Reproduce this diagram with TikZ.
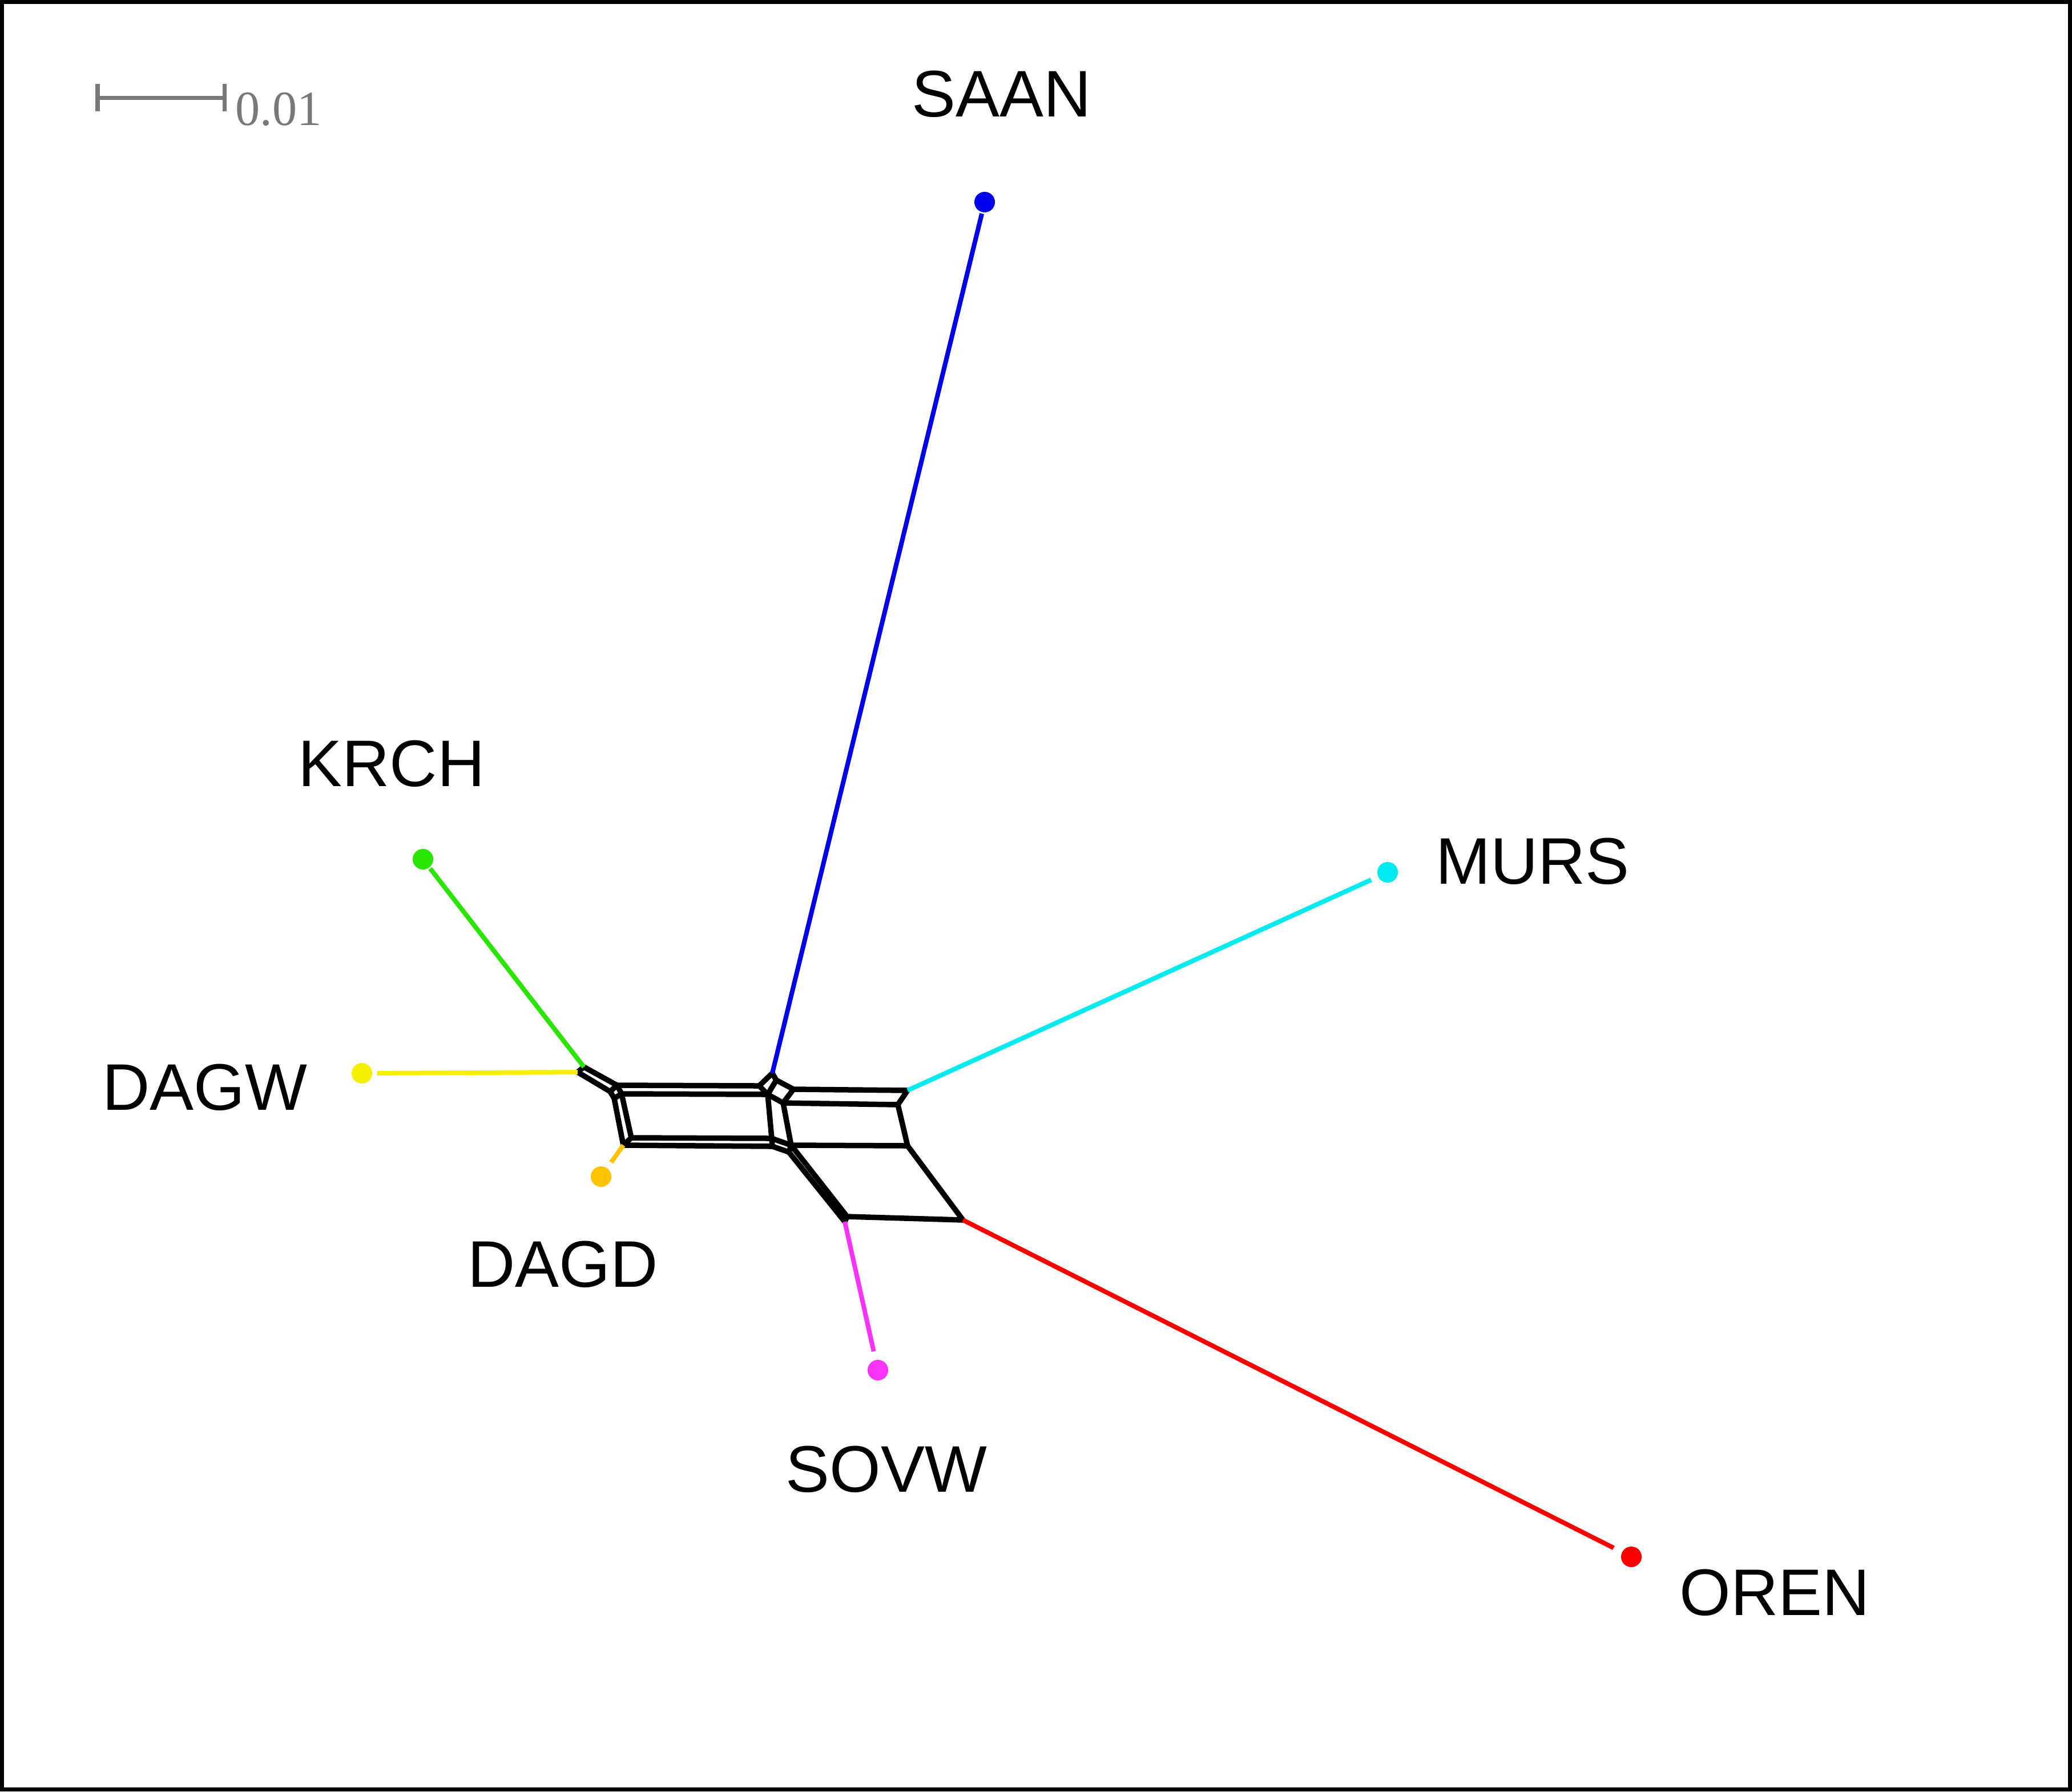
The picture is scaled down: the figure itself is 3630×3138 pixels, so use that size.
\documentclass[tikz,border=0pt]{standalone}
\usepackage{fontspec}
\setmainfont{Liberation Sans}
\newfontfamily\scalefont{Liberation Serif}
\definecolor{cSAAN}{RGB}{0,0,235}
\definecolor{cMURS}{RGB}{0,235,240}
\definecolor{cOREN}{RGB}{250,0,0}
\definecolor{cSOVW}{RGB}{250,50,250}
\definecolor{cDAGD}{RGB}{255,195,0}
\definecolor{cDAGW}{RGB}{245,240,0}
\definecolor{cKRCH}{RGB}{40,230,0}
\definecolor{barGray}{RGB}{120,120,120}
\tikzset{
  net/.style={line width=0.095cm, black, line join=round, line cap=round},
  leaf/.style={line width=0.08cm},
  tipdot/.style={circle, inner sep=0pt, minimum size=0.36cm, draw=none},
  taxon/.style={inner sep=0pt, font=\fontsize{32.8}{38}\selectfont},
}
\begin{document}
\begin{tikzpicture}[x=0.01cm, y=-0.01cm]
\useasboundingbox (0,0) rectangle (3630,3138);
\draw[line width=0.07cm] (3.5,3.5) rectangle (3626.5,3134.5);

% scale bar
\coordinate (sbL) at (171,171);
\coordinate (sbR) at (393,171);
\draw[barGray, line width=0.07cm] (sbL) -- (sbR);
\draw[barGray, line width=0.07cm] (171,147) -- (171,195);
\draw[barGray, line width=0.07cm] (393,147) -- (393,195);
\node[anchor=base west, inner sep=0pt, text=barGray, font=\scalefont\fontsize{24.5}{28}\selectfont] (sblab) at (412,219) {0.01};

% network vertices
\coordinate (K) at (1023,1869);
\coordinate (W) at (1012,1878);
\coordinate (S1) at (1081,1901);
\coordinate (S2) at (1069,1912);
\coordinate (S3) at (1089,1916);
\coordinate (S4) at (1076,1924);
\coordinate (L1) at (1092,2006);
\coordinate (L2) at (1106,1993);
\coordinate (T) at (1353,1880);
\coordinate (R1) at (1330,1902);
\coordinate (R2) at (1345,1917);
\coordinate (X) at (1360,1892);
\coordinate (Y) at (1390,1908);
\coordinate (Z) at (1372,1932);
\coordinate (B2) at (1352,1994);
\coordinate (B1) at (1353,2008);
\coordinate (C2) at (1386,2006);
\coordinate (C1) at (1382,2018);
\coordinate (U1) at (1590,1910);
\coordinate (U2) at (1573,1935);
\coordinate (V) at (1590,2007);
\coordinate (D2) at (1484,2131);
\coordinate (D1) at (1480,2140);
\coordinate (O) at (1687,2137);

% network edges
\draw[net] (K) -- (W);
\draw[net] (K) -- (S1);
\draw[net] (W) -- (S2);
\draw[net] (S1) -- (S2);
\draw[net] (S1) -- (S3);
\draw[net] (S3) -- (S4);
\draw[net] (S2) -- (S4);
\draw[net] (S1) -- (R1);
\draw[net] (S3) -- (R2);
\draw[net] (S4) -- (L1);
\draw[net] (S3) -- (L2);
\draw[net] (L1) -- (L2);
\draw[net] (L2) -- (B2);
\draw[net] (L1) -- (B1);
\draw[net] (T) -- (R1);
\draw[net] (T) -- (X);
\draw[net] (R1) -- (R2);
\draw[net] (X) -- (R2);
\draw[net] (X) -- (Y);
\draw[net] (Y) -- (Z);
\draw[net] (Z) -- (R2);
\draw[net] (Y) -- (U1);
\draw[net] (Z) -- (U2);
\draw[net] (U1) -- (U2);
\draw[net] (R2) -- (B2);
\draw[net] (B2) -- (B1);
\draw[net] (Z) -- (C2);
\draw[net] (B2) -- (C2);
\draw[net] (B1) -- (C1);
\draw[net] (C1) -- (C2);
\draw[net] (U2) -- (V);
\draw[net] (C2) -- (V);
\draw[net] (C2) -- (D2);
\draw[net] (C1) -- (D1);
\draw[net] (D1) -- (D2);
\draw[net] (V) -- (O);
\draw[net] (D2) -- (O);

% tip dots
\node[tipdot, fill=cSAAN] (dSAAN) at (1725,354) {};
\node[tipdot, fill=cMURS] (dMURS) at (2431,1528) {};
\node[tipdot, fill=cOREN] (dOREN) at (2858,2727) {};
\node[tipdot, fill=cSOVW] (dSOVW) at (1538,2400) {};
\node[tipdot, fill=cDAGD] (dDAGD) at (1053,2061) {};
\node[tipdot, fill=cDAGW] (dDAGW) at (634,1880) {};
\node[tipdot, fill=cKRCH] (dKRCH) at (741,1505) {};

% leaf edges
\draw[leaf, cSAAN, shorten >=0.02cm] (T) -- (dSAAN);
\draw[leaf, cMURS, shorten >=0.13cm] (U1) -- (dMURS);
\draw[leaf, cOREN, shorten >=0.16cm] (O) -- (dOREN);
\draw[leaf, cSOVW, shorten >=0.15cm] (D1) -- (dSOVW);
\draw[leaf, cDAGD, shorten >=0.12cm] (L1) -- (dDAGD);
\draw[leaf, cDAGW, shorten >=0.08cm] (W) -- (dDAGW);
\draw[leaf, cKRCH, shorten >=0.02cm] (K) -- (dKRCH);

% labels
\node[taxon] (tSAAN) at (1755,165) {SAAN};
\node[taxon] (tMURS) at (2685,1509) {MURS};
\node[taxon] (tOREN) at (3109,2790) {OREN};
\node[taxon] (tSOVW) at (1553,2574) {SOVW};
\node[taxon] (tDAGD) at (986,2215) {DAGD};
\node[taxon] (tDAGW) at (359,1905) {DAGW};
\node[taxon] (tKRCH) at (686,1338) {KRCH};
\end{tikzpicture}
\end{document}
